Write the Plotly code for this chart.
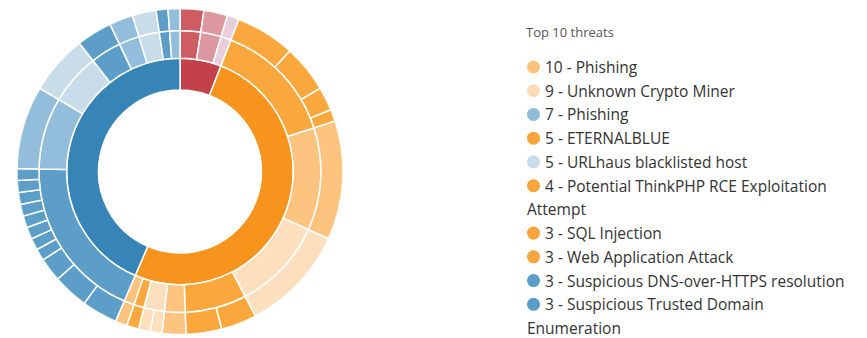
import plotly.graph_objects as go

# ---------------- data ----------------
severity_names = ["High", "Medium", "Low"]
inner_colors = ["#c3414a", "#f7941e", "#3784b6"]
shade_colors = [
    ["#cd5c63", "#dd97a1", "#e8cddb"],
    ["#faa83e", "#fdc47f", "#fce0be"],
    ["#5d9ec9", "#93bedb", "#c8dde9"],
]
# leaf counts per severity -> per category -> per signature
leaf_counts = [
    [[2], [2], [1]],
    [[5, 4, 2, 1], [10], [9], [3, 3], [2], [1, 1], [1], [1]],
    [[3, 3, 2, 1, 1, 1, 1, 1, 1, 1, 1], [7], [5], [3], [2], [2], [1], [1]],
]

legend_title = "Top 10 threats"
legend_counts = [10, 9, 7, 5, 5, 4, 3, 3, 3, 3]
legend_names = [
    "Phishing",
    "Unknown Crypto Miner",
    "Phishing",
    "ETERNALBLUE",
    "URLhaus blacklisted host",
    "Potential ThinkPHP RCE Exploitation\nAttempt",
    "SQL Injection",
    "Web Application Attack",
    "Suspicious DNS-over-HTTPS resolution",
    "Suspicious Trusted Domain\nEnumeration",
]
legend_colors = ["#fdc27c", "#fbdcb6", "#8fbbd8", "#f9a43c", "#c6dcea",
                 "#f9a43c", "#f9a43c", "#f9a43c", "#5a9dc8", "#5a9dc8"]

# ---------------- layout constants ----------------
W, H = 867, 338
ring_edges = [0.5, 0.695, 0.865, 1.0]
cx, cy, R = 180, 171.5, 163

total = sum(sum(sum(c) for c in cats) for cats in leaf_counts)
deg = 360.0 / total

rings = [dict(theta=[], width=[], color=[], text=[]) for _ in range(3)]
pos = 0.0
for si, cats in enumerate(leaf_counts):
    s_start = pos
    for ci, leaves in enumerate(cats):
        c_start = pos
        col = shade_colors[si][ci % 3]
        for v in leaves:
            w = v * deg
            rings[2]["theta"].append(pos + w / 2)
            rings[2]["width"].append(w)
            rings[2]["color"].append(col)
            rings[2]["text"].append(str(v))
            pos += w
        cw = pos - c_start
        rings[1]["theta"].append(c_start + cw / 2)
        rings[1]["width"].append(cw)
        rings[1]["color"].append(col)
        rings[1]["text"].append(str(sum(leaves)))
    sw = pos - s_start
    rings[0]["theta"].append(s_start + sw / 2)
    rings[0]["width"].append(sw)
    rings[0]["color"].append(inner_colors[si])
    rings[0]["text"].append(severity_names[si])

fig = go.Figure()
for k in range(3):
    n = len(rings[k]["theta"])
    fig.add_trace(go.Barpolar(
        theta=rings[k]["theta"],
        width=rings[k]["width"],
        base=[ring_edges[k]] * n,
        r=[ring_edges[k + 1] - ring_edges[k]] * n,
        marker=dict(color=rings[k]["color"], line=dict(color="white", width=1.5)),
        hovertext=rings[k]["text"],
        hoverinfo="text",
        showlegend=False,
    ))

fig.update_layout(
    width=W, height=H,
    margin=dict(l=0, r=0, t=0, b=0),
    paper_bgcolor="white",
    plot_bgcolor="white",
    showlegend=False,
    polar=dict(
        domain=dict(x=[(cx - R) / W, (cx + R) / W],
                    y=[(H - cy - R) / H, (H - cy + R) / H]),
        bgcolor="rgba(0,0,0,0)",
        bargap=0,
        radialaxis=dict(range=[0, 1], visible=False, showgrid=False),
        angularaxis=dict(rotation=90, direction="clockwise", visible=False,
                         showgrid=False, showticklabels=False, showline=False),
    ),
)

# ---------------- legend (custom) ----------------
font_fam = "Open Sans, Noto Sans, sans-serif"
fig.add_annotation(x=524 / W, y=1 - 32 / H, xref="paper", yref="paper",
                   xanchor="left", yanchor="middle", showarrow=False,
                   text=legend_title,
                   font=dict(family=font_fam, size=13, color="#555555"))

line_y0, line_step = 67, 23.73
line_idx = 0
for cnt, name, col in zip(legend_counts, legend_names, legend_colors):
    parts = name.split("\n")
    y = line_y0 + line_idx * line_step
    fig.add_shape(type="circle", xref="paper", yref="paper",
                  xsizemode="pixel", ysizemode="pixel",
                  xanchor=533.5 / W, yanchor=1 - y / H,
                  x0=-6.5, x1=6.5, y0=-6.5, y1=6.5,
                  fillcolor=col, line=dict(width=0))
    fig.add_annotation(x=543 / W, y=1 - y / H, xref="paper", yref="paper",
                       xanchor="left", yanchor="middle", showarrow=False,
                       text=f"{cnt} - {parts[0]}",
                       font=dict(family=font_fam, size=15.5, color="#333333"))
    line_idx += 1
    for extra in parts[1:]:
        y = line_y0 + line_idx * line_step
        fig.add_annotation(x=525 / W, y=1 - y / H, xref="paper", yref="paper",
                           xanchor="left", yanchor="middle", showarrow=False,
                           text=extra,
                           font=dict(family=font_fam, size=15.5, color="#333333"))
        line_idx += 1

fig.write_html("out.html", config={"displayModeBar": False},
               post_script="document.body.style.margin='0';document.body.style.overflow='hidden';")
